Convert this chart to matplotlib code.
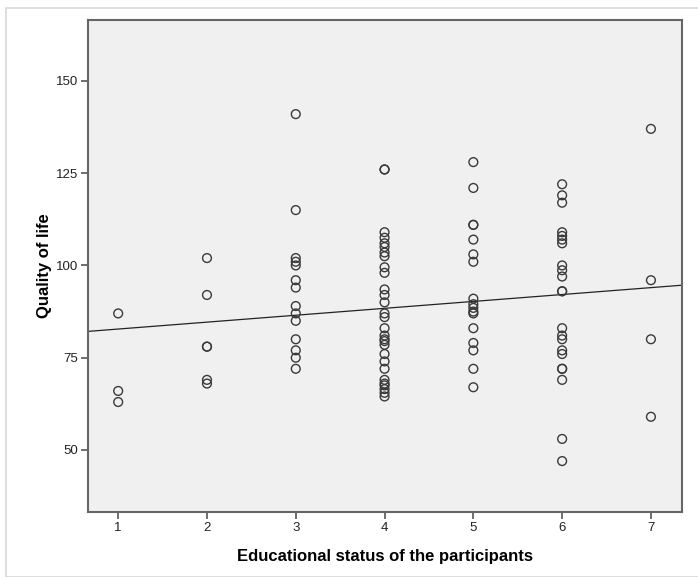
import matplotlib.pyplot as plt
from matplotlib.patches import Rectangle
from matplotlib import font_manager
import numpy as np

# values, one list per education level
edu_1 = [87, 66, 63]
edu_2 = [102, 92, 78, 78, 69, 68]
edu_3 = [141, 115, 102, 101, 100, 96, 94, 89, 87, 85, 80, 77, 75, 72]
edu_4 = [126, 126, 109, 107.5, 106, 105, 103.5, 102.5, 99.5, 98, 93.5, 92, 90,
         87, 86, 83, 81, 80, 79.5, 78.5, 76, 74, 72, 69, 68, 67.5, 66.5, 65.5, 64.5]
edu_5 = [128, 121, 111, 111, 107, 103, 101, 91, 89.5, 88.5, 87.5, 87, 83, 79, 77, 72, 67]
edu_6 = [122, 119, 117, 109, 108, 107, 106, 100, 98.7, 97, 93, 93, 83, 81, 80,
         77, 76, 72, 72, 69, 53, 47]
edu_7 = [137, 96, 80, 59]

groups = [edu_1, edu_2, edu_3, edu_4, edu_5, edu_6, edu_7]
levels = [1, 2, 3, 4, 5, 6, 7]

# fit line as drawn in the picture
fit_intercept = 80.9
fit_slope = 1.87

x = np.concatenate([[lv] * len(g) for lv, g in zip(levels, groups)])
y = np.concatenate(groups)

names = {f.name for f in font_manager.fontManager.ttflist}
narrow = 'Liberation Sans Narrow' if 'Liberation Sans Narrow' in names else 'Liberation Sans'
plt.rcParams['font.family'] = [narrow, 'DejaVu Sans']

fig = plt.figure(figsize=(6.98, 5.77), dpi=100)
fig.patches.append(Rectangle((6 / 698, 0), 1, 1 - 8 / 577, transform=fig.transFigure,
                             fill=False, edgecolor='#d8d8d8', linewidth=1.2))
ax = fig.add_axes([88 / 698, 1 - 512 / 577, (682 - 88) / 698, (512 - 20) / 577])
ax.set_facecolor('#f0f0f0')

ax.scatter(x, y, s=40, facecolors='none', edgecolors='#3a3a3a', linewidths=1.0, zorder=3)

xlim = (0.66, 7.35)
xs = np.array(xlim)
ax.plot(xs, fit_intercept + fit_slope * xs, color='#222222', linewidth=0.9, zorder=2)

ax.set_xlim(*xlim)
ax.set_ylim(33.2, 166.5)
ax.set_xticks(levels)
ax.set_yticks([50, 75, 100, 125, 150])

for sp in ax.spines.values():
    sp.set_color('#666666')
    sp.set_linewidth(1.5)
ax.tick_params(direction='out', length=5, width=1.2, color='#555555',
               labelsize=9.5, labelcolor='#222222', pad=2)

ax.set_xlabel('Educational status of the participants', fontsize=12, fontweight='bold',
              labelpad=11, family=['Liberation Sans', 'DejaVu Sans'])
ax.set_ylabel('Quality of life', fontsize=12, fontweight='bold', labelpad=3,
              family=['Liberation Sans', 'DejaVu Sans'])

fig.savefig('out.png', dpi=100)
